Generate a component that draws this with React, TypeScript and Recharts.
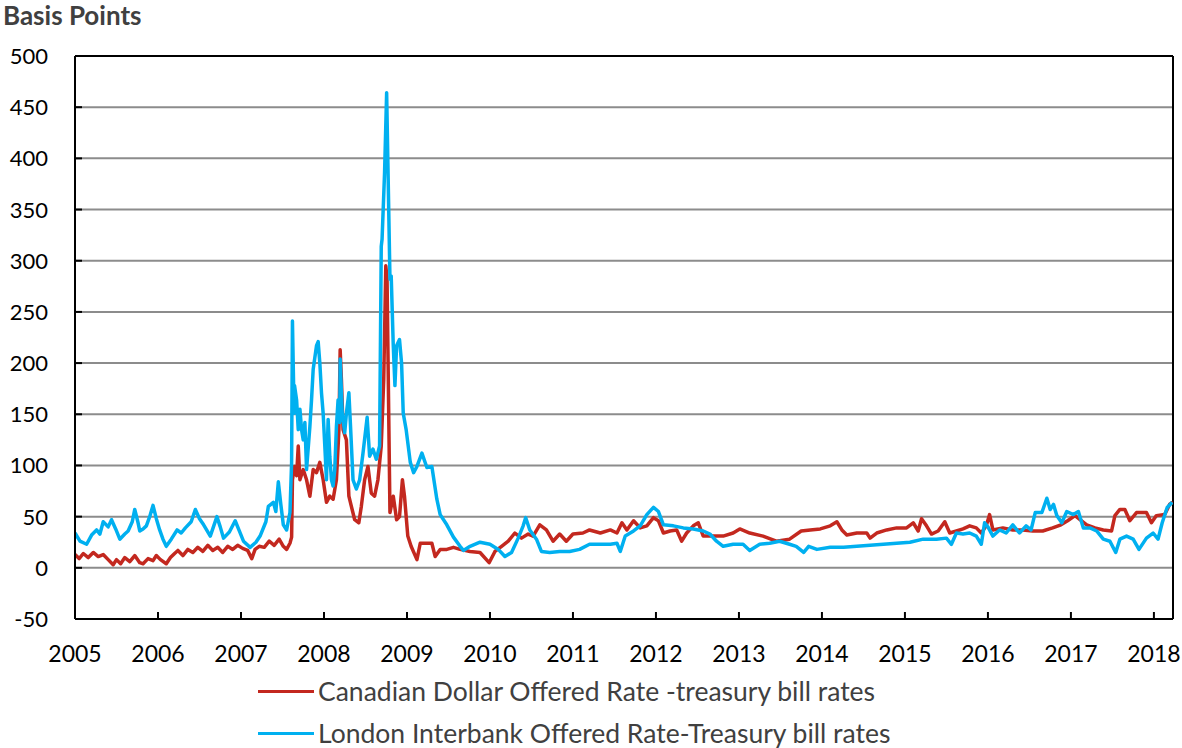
import React from 'react';
import { LineChart, Line, XAxis, YAxis, CartesianGrid, ReferenceLine, Legend } from 'recharts';

const W = 1182;
const H = 748;
const FONT = 'Lato, "Open Sans", sans-serif';
const RED = '#C3281F';
const BLUE = '#00B0F0';
const X_END = 2018.23;

const yearTicks = [2005, 2006, 2007, 2008, 2009, 2010, 2011, 2012, 2013, 2014, 2015, 2016, 2017, 2018];
const valueTicks = [-50, 0, 50, 100, 150, 200, 250, 300, 350, 400, 450, 500];
const seriesNames = [
  'Canadian Dollar Offered Rate -treasury bill rates',
  'London Interbank Offered Rate-Treasury bill rates',
];
const yTitle = 'Basis Points';

const cdorYears = [
  2005.0, 2005.05, 2005.1, 2005.16, 2005.22, 2005.28, 2005.34, 2005.4, 2005.46, 2005.5, 2005.55, 2005.6, 2005.66, 2005.72, 2005.78, 2005.82, 2005.88, 2005.94, 2005.98, 2006.03, 2006.1, 2006.15, 2006.2, 2006.24, 2006.3, 2006.36, 2006.42, 2006.48, 2006.54, 2006.6, 2006.66, 2006.72, 2006.78, 2006.84, 2006.9, 2006.96, 2007.02, 2007.08, 2007.13, 2007.17, 2007.22, 2007.28, 2007.34, 2007.4, 2007.46,
  2007.51, 2007.55, 2007.59, 2007.61, 2007.62, 2007.645, 2007.67, 2007.69, 2007.71, 2007.75, 2007.79, 2007.83, 2007.87, 2007.91, 2007.95, 2007.99, 2008.03, 2008.07, 2008.11, 2008.15, 2008.18, 2008.195, 2008.21, 2008.23, 2008.27, 2008.3, 2008.33, 2008.37, 2008.42, 2008.45, 2008.49, 2008.53, 2008.57, 2008.61, 2008.65, 2008.69, 2008.72, 2008.745, 2008.76, 2008.78, 2008.795, 2008.835, 2008.875, 2008.91, 2008.945, 2008.97, 2009.01, 2009.05, 2009.12, 2009.16, 2009.24, 2009.3, 2009.34, 2009.4, 2009.48, 2009.56, 2009.64,
  2009.76, 2009.88, 2009.99, 2010.06, 2010.14, 2010.22, 2010.3, 2010.38, 2010.46, 2010.52, 2010.6, 2010.68, 2010.76, 2010.84, 2010.92, 2011.0, 2011.12, 2011.2, 2011.33, 2011.45, 2011.53, 2011.59, 2011.65, 2011.73, 2011.81, 2011.89, 2011.97, 2012.03, 2012.09, 2012.17, 2012.25, 2012.31, 2012.37, 2012.45, 2012.51, 2012.57, 2012.69, 2012.81, 2012.93, 2013.01, 2013.13,
  2013.29, 2013.45, 2013.61, 2013.75, 2013.86, 2013.98, 2014.1, 2014.18, 2014.24, 2014.3, 2014.42, 2014.54, 2014.58, 2014.66, 2014.78, 2014.9, 2015.02, 2015.1, 2015.16, 2015.2, 2015.26, 2015.32, 2015.4, 2015.48, 2015.54, 2015.62, 2015.7, 2015.78, 2015.86, 2015.92, 2015.98, 2016.02, 2016.06,
  2016.18, 2016.3, 2016.42, 2016.54, 2016.66, 2016.78, 2016.88, 2016.96, 2017.05, 2017.11, 2017.19, 2017.29, 2017.39, 2017.49, 2017.53, 2017.59, 2017.65, 2017.71, 2017.79, 2017.91, 2017.97, 2018.03, 2018.13, 2018.19, 2018.23,
];
const cdorValues = [
  13, 9, 14, 10, 15, 11, 13, 8, 3, 8, 4, 10, 6, 12, 5, 4, 9, 7, 12, 8, 4, 10, 14, 17, 12, 18, 15, 20, 16, 22, 17, 20, 15, 21, 18, 22, 19, 17, 9, 18, 21, 20, 26, 22, 28,
  21, 18, 24, 30, 86, 99, 90, 119, 86, 96, 86, 70, 96, 93, 103, 86, 64, 70, 67, 86, 135, 213, 184, 135, 125, 70, 60, 47, 44, 60, 86, 99, 73, 70, 86, 119, 184, 295, 282, 151, 54, 70, 47, 50, 86, 70, 31, 21, 8, 24, 24, 24, 11, 18, 18, 20, 18,
  16, 15, 5, 16, 21, 26, 34, 29, 33, 31, 42, 37, 26, 33, 26, 33, 34, 37, 34, 37, 34, 44, 37, 46, 39, 41, 49, 46, 34, 36, 37, 26, 34, 41, 44, 31, 31, 31, 34, 38, 34,
  31, 26, 28, 36, 37, 38, 41, 45, 37, 32, 34, 34, 29, 34, 37, 39, 39, 44, 36, 48, 41, 33, 36, 45, 34, 36, 38, 41, 39, 34, 41, 52, 37,
  39, 37, 37, 36, 36, 39, 42, 46, 51, 47, 42, 39, 37, 36, 51, 57, 57, 46, 54, 54, 44, 51, 52, 62, 64,
];

const liborYears = [
  2005.0, 2005.06, 2005.14, 2005.2, 2005.26, 2005.3, 2005.34, 2005.4, 2005.44, 2005.49, 2005.54, 2005.6, 2005.64, 2005.69, 2005.72, 2005.76, 2005.78, 2005.82, 2005.86, 2005.9, 2005.94, 2005.98, 2006.02, 2006.06, 2006.1, 2006.16, 2006.23, 2006.28, 2006.33, 2006.4, 2006.45, 2006.5, 2006.55, 2006.63, 2006.71, 2006.75, 2006.79, 2006.86, 2006.93, 2006.98, 2007.03, 2007.11, 2007.18, 2007.23, 2007.3, 2007.33, 2007.39, 2007.42, 2007.45, 2007.48,
  2007.51, 2007.55, 2007.59, 2007.61, 2007.62, 2007.64, 2007.645, 2007.67, 2007.69, 2007.71, 2007.73, 2007.75, 2007.77, 2007.79, 2007.83, 2007.85, 2007.87, 2007.91, 2007.93, 2007.95, 2007.97, 2007.99, 2008.01, 2008.03, 2008.05, 2008.07, 2008.09, 2008.11, 2008.13, 2008.15, 2008.17, 2008.19, 2008.195, 2008.22, 2008.25, 2008.27, 2008.3, 2008.32, 2008.35, 2008.39, 2008.43, 2008.47, 2008.52, 2008.55, 2008.59, 2008.63, 2008.67, 2008.69, 2008.7, 2008.73, 2008.755, 2008.77, 2008.795, 2008.81, 2008.835, 2008.855, 2008.875, 2008.91, 2008.935, 2008.955, 2008.99, 2009.04, 2009.08, 2009.12, 2009.18, 2009.24, 2009.3, 2009.36, 2009.4, 2009.48, 2009.56, 2009.64,
  2009.68, 2009.76, 2009.88, 2010.0, 2010.1, 2010.18, 2010.26, 2010.34, 2010.4, 2010.43, 2010.48, 2010.56, 2010.62, 2010.72, 2010.84, 2010.96, 2011.08, 2011.2, 2011.33, 2011.45, 2011.53, 2011.57, 2011.63, 2011.73, 2011.81, 2011.89, 2011.97, 2012.03, 2012.09, 2012.21, 2012.33, 2012.45, 2012.57, 2012.65, 2012.73, 2012.81, 2012.93, 2013.05, 2013.13,
  2013.25, 2013.37, 2013.49, 2013.61, 2013.69, 2013.78, 2013.84, 2013.94, 2014.1, 2014.26, 2014.42, 2014.58, 2014.74, 2014.9, 2015.06, 2015.22, 2015.38, 2015.5, 2015.56, 2015.62, 2015.7, 2015.78, 2015.86, 2015.92, 2015.96, 2016.0,
  2016.06, 2016.14, 2016.22, 2016.3, 2016.38, 2016.46, 2016.52, 2016.57, 2016.65, 2016.71, 2016.75, 2016.79, 2016.83, 2016.89, 2016.95, 2017.03, 2017.09, 2017.15, 2017.23, 2017.31, 2017.39, 2017.47, 2017.54, 2017.59, 2017.67, 2017.75, 2017.82, 2017.91, 2017.99, 2018.05, 2018.1, 2018.16, 2018.22,
];
const liborValues = [
  34, 26, 23, 32, 37, 33, 45, 40, 47, 38, 28, 33, 36, 45, 57, 44, 36, 38, 41, 50, 61, 48, 37, 28, 21, 28, 37, 34, 39, 45, 57, 48, 42, 31, 50, 40, 29, 35, 46, 36, 26, 20, 25, 31, 45, 60, 64, 55, 84, 62,
  42, 37, 54, 103, 241, 151, 178, 164, 135, 155, 135, 125, 142, 96, 138, 164, 194, 217, 221, 200, 171, 151, 119, 86, 145, 109, 86, 80, 96, 138, 164, 142, 204, 151, 132, 151, 171, 138, 86, 77, 86, 112, 147, 109, 116, 106, 119, 314, 321, 386, 464, 396, 282, 285, 217, 178, 217, 223, 200, 151, 135, 103, 93, 99, 112, 98, 99, 67, 52, 42, 30, 21,
  17, 21, 25, 23, 18, 11, 15, 29, 41, 49, 37, 28, 16, 15, 16, 16, 18, 23, 23, 23, 24, 16, 31, 36, 41, 52, 59, 55, 42, 41, 39, 38, 36, 33, 26, 21, 23, 23, 17,
  23, 24, 26, 23, 21, 15, 21, 18, 20, 20, 21, 22, 23, 24, 25, 28, 28, 29, 23, 34, 33, 34, 31, 23, 44, 40,
  31, 37, 34, 42, 34, 41, 37, 54, 54, 68, 57, 62, 51, 44, 55, 52, 55, 39, 39, 36, 28, 26, 15, 28, 31, 28, 18, 29, 34, 28, 44, 59, 64,
];

const cdorData = cdorYears.map((x, i) => ({ x, v: cdorValues[i] }));
const liborData = liborYears.map((x, i) => ({ x, v: liborValues[i] }));
const seriesColors = [RED, BLUE];

const XTick = (props: any) => {
  const { x, y, payload } = props;
  return (
    <g>
      <line x1={x} x2={x} y1={y} y2={y - 7} stroke="#000" strokeWidth={2} />
      <text x={x} y={y + 43} textAnchor="middle" fontFamily={FONT} fontSize={23} fill="#000">
        {payload.value}
      </text>
    </g>
  );
};

const YTick = (props: any) => {
  const { x, y, payload } = props;
  return (
    <g>
      <line x1={x} x2={x + 7} y1={y} y2={y} stroke="#000" strokeWidth={2} />
      <text x={x - 27} y={y + 8} textAnchor="end" fontFamily={FONT} fontSize={22} fill="#000">
        {payload.value}
      </text>
    </g>
  );
};

const LegendBox = () => (
  <div style={{ fontFamily: FONT }}>
    {seriesNames.map((name, i) => (
      <div key={name} style={{ display: 'flex', alignItems: 'center', height: 42, lineHeight: '30px' }}>
        <div style={{ width: 56, height: 3, background: seriesColors[i], marginRight: 4 }} />
        <span style={{ fontSize: 26.5, color: '#404040', whiteSpace: 'nowrap' }}>{name}</span>
      </div>
    ))}
  </div>
);

export default function App() {
  return (
    <div style={{ position: 'absolute', left: 0, top: 0, width: W, height: H, background: '#fff', overflow: 'hidden' }}>
      <div
        style={{
          position: 'absolute',
          left: 3,
          top: -1,
          fontFamily: FONT,
          fontWeight: 700,
          fontSize: 26,
          color: '#404040',
          zIndex: 2,
        }}
      >
        {yTitle}
      </div>
      <LineChart width={W} height={H} margin={{ top: 56, right: 9, bottom: 99, left: 0 }}>
        <CartesianGrid vertical={false} stroke="#8c8c8c" strokeWidth={2} />
        <XAxis
          type="number"
          dataKey="x"
          domain={[2005, X_END]}
          ticks={yearTicks}
          allowDataOverflow
          height={30}
          tickSize={0}
          tickMargin={0}
          tick={<XTick />}
          axisLine={{ stroke: '#000', strokeWidth: 2 }}
          tickLine={false}
        />
        <YAxis
          type="number"
          domain={[-50, 500]}
          ticks={valueTicks}
          width={75}
          tickSize={0}
          tickMargin={0}
          tick={<YTick />}
          axisLine={{ stroke: '#000', strokeWidth: 2 }}
          tickLine={false}
          interval={0}
        />
        <ReferenceLine y={500} stroke="#000" strokeWidth={2} />
        <ReferenceLine x={X_END} stroke="#000" strokeWidth={2} />
        <Line
          data={cdorData}
          dataKey="v"
          name={seriesNames[0]}
          type="linear"
          stroke={RED}
          strokeWidth={3.5}
          dot={false}
          strokeLinejoin="round"
          isAnimationActive={false}
        />
        <Line
          data={liborData}
          dataKey="v"
          name={seriesNames[1]}
          type="linear"
          stroke={BLUE}
          strokeWidth={3.5}
          dot={false}
          strokeLinejoin="round"
          isAnimationActive={false}
        />
        <Legend
          layout="vertical"
          verticalAlign="middle"
          align="center"
          wrapperStyle={{ top: 670, left: 258, width: 760 }}
          content={<LegendBox />}
        />
      </LineChart>
    </div>
  );
}
